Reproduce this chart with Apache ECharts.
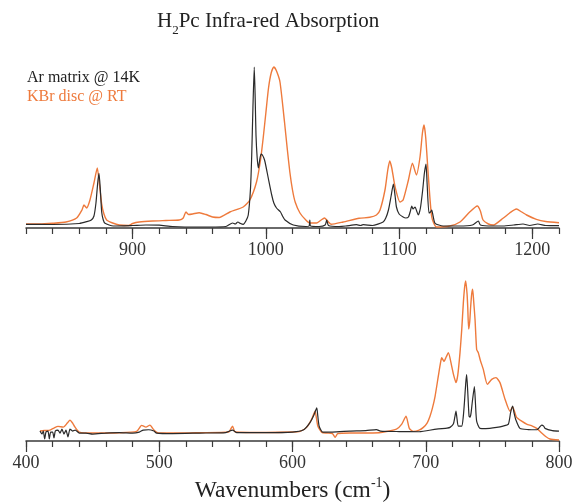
<!DOCTYPE html>
<html>
<head>
<meta charset="utf-8">
<script src="https://cdn.jsdelivr.net/npm/echarts@6/dist/echarts.min.js"></script>
<style>html,body{margin:0;padding:0;background:#fff}#c{width:576px;height:504px}</style>
</head>
<body>
<div id="c"></div>
<script>
// ---- data (wavenumber cm-1, relative absorbance) ----
var topTicks = [900, 1000, 1100, 1200];
var bottomTicks = [400, 500, 600, 700, 800];
var seriesNames = ['Ar matrix @ 14K', 'KBr disc @ RT'];

var arHigh = [
 [820,3.7],[840,3.5],[860,4.5],[865.5,6.3],[869,8],[871,12],[872.5,25],[873.8,45],[874.8,54.7],[875.8,38],[876.8,16],[878,8],[879.3,4.7],[885.5,2],
 [900,2.5],[910,3],[920,2.8],[930,1.5],[950,1],[958,1],[970,1.5],[975,5],[977,4],[979,6],[981,4.5],[983,3.7],[985,7],[986.8,13],[988.5,40],[989.4,73],
 [990.3,120],[991.3,161],[992,130],[992.6,93],[993.5,70],[994.4,60],[995.6,70],[996.5,74],[997.4,73],[998.5,70],[999.4,66],[1001.8,50],[1004.4,33],
 [1006,25],[1008,20],[1011,16],[1012.5,12],[1014.4,8],[1020.6,3],[1030,1.5],[1032.5,2],[1033,8],[1033.6,2],[1040,1.5],[1044.5,3],[1045.7,8],[1047,2.5],
 [1055,1.5],[1060,2],[1068,3.3],[1071,2.5],[1073,3.3],[1080,2.5],[1088,6],[1090,10],[1092,18],[1094,32],[1095.7,44],[1097,32],[1098,21],[1100,14],
 [1103,11],[1105,10],[1107,11],[1108.5,17],[1109.5,22],[1110.5,19],[1112,21],[1113.2,17],[1114.4,13],[1116,20],[1117.7,38],[1119,55],[1120.2,64],
 [1121,45],[1122.4,15],[1123.5,16],[1124.5,18],[1125.5,12],[1127,4.7],[1133,2],[1145,2],[1155,3],[1159.5,7],[1161,3],[1170,2],[1178,2],[1186,3],
 [1193,4],[1198,2.5],[1204,4],[1210,2.5],[1220,2.3]
];
var kbrHigh = [
 [820,4],[830,4],[840,4.7],[850,6],[858,10],[862,18],[863.5,23],[865.5,20],[868,28],[871,45],[873.5,60],[875,45],[876.8,24],[878.5,14],[880.5,8],
 [885,5],[890,3],[897,2.5],[900,4.5],[905,6],[915,7],[925,7.5],[935,8],[938,10],[940,16],[942,13.5],[945,14],[950,15.3],[955,13.5],[960,11],[965,10.5],
 [973,16],[983,21],[988,28],[993,46],[996,68],[998,90],[1000,115],[1002,140],[1004,155],[1006,161],[1008,157],[1010.6,146],[1014,106],[1016,80],
 [1018,56],[1020,38],[1022,26],[1025.6,15],[1030,8],[1033,5],[1038,5],[1041,7.5],[1044,10],[1047,6],[1049,3.7],[1058,6],[1070,9.7],[1078,10.7],
 [1083,13],[1085.7,18],[1089.4,38],[1091.5,58],[1093,67],[1094.5,60],[1097,41],[1100.7,26],[1103,28],[1107,48],[1110,64.7],[1113,53],[1115.7,71],
 [1117.5,95],[1118.7,103],[1120,90],[1122,51],[1124.5,11],[1128,1],[1138,2],[1145.7,6],[1153,16],[1158.7,22],[1161,17],[1163,8],[1167,4],[1170.7,3],
 [1178,9.7],[1183,15],[1188,19],[1192,16],[1195.7,13],[1203,8.7],[1210,6.5],[1220,5.3]
];
var arLow = [
 [410.5,10],[412,7],[413,10],[414,2],[415,9],[416.5,10],[417.5,2],[418.5,9],[420,9],[421,3],[422,10],[424,11],[425.5,8],[427,12],[428.5,7],[430,11],
 [431.5,4],[433,12],[435,10],[437,11],[440,8],[445,8],[450,7],[460,8],[470,8.5],[480,8],[485,9],[488,11],[492,11.3],[496,10],[498,8],[510,7.5],[530,8],
 [550,8.5],[555,11],[558,8.5],[580,8.5],[600,9],[608,11],[613,18.3],[616,26],[618.2,33.3],[619,25],[620,15],[622.6,9],[630,9],[643,10],[655,10.5],
 [663,11.5],[666,10],[680,9.5],[695,9.3],[708,12],[716,13],[718.2,13.7],[720.7,17],[721.8,24],[722.7,30],[723.5,22],[724.4,15],[727,15],[728.2,25],
 [729,38.3],[730,58],[730.7,66.7],[731.5,50],[732.5,25],[733.3,24],[734,28],[735,40],[736.5,54.7],[737.3,38],[738.2,20],[740.7,12.7],[745,12.5],
 [753.2,13.7],[758,15],[762,17],[763.7,28.7],[765.2,35],[766.3,28],[767.5,21.7],[770.7,12.7],[777,11.5],[783.3,11.3],[785.5,14],[787,16],[788.5,15],
 [789.5,12.7],[795,10.5],[800,10]
];
var kbrLow = [
 [410.5,10],[414,10.5],[418,11],[421,13],[424,14.7],[428,14],[431,18],[433,21],[435,18],[436.8,14],[440,9],[450,8],[470,8.3],[483,9.7],[486.8,15.7],
 [490,14],[493,16],[496,11],[499.3,8],[520,8],[530,8.3],[552,9],[555,15],[557,9],[580,8.5],[600,9],[605.6,9.7],[610.6,13.7],[614.4,22],[616.9,30],
 [619,15],[622,8.7],[625.6,8],[630,7.5],[632,3.7],[634,7.5],[645,8],[665,8.3],[678,12],[682,17],[685.2,25],[687.7,12.7],[690.7,9.7],[695,11],
 [698.2,13.7],[701,18],[703.2,25],[705,33],[707,45],[709.4,65],[711,78],[712,83.7],[713.7,80],[715.5,85],[717,88.7],[719.5,75],[721,66],[722.7,58.7],
 [724,66],[725.7,88.7],[727,112],[728.2,138.7],[729.2,155],[730,161],[731,148],[731.5,135],[732.2,112.7],[733,120],[733.7,135],[734.5,148],
 [735.2,152.7],[736,140],[737,122],[738.2,92],[739.4,89],[741,81],[743.2,72],[746.2,57],[749.5,62],[752.7,63.7],[755.7,58.7],[759.5,42],[763.2,30],
 [765.2,34.3],[768.2,23.7],[772,20],[775.7,17],[780,15],[783.3,12.7],[787,8],[790,4.5],[793.2,2],[800,1]
];

// ---- styling ----
var SERIF = '"Liberation Serif","DejaVu Serif",serif';
var AXIS = '#3a3a3a';
var BLACK = '#2a2a2a';
var ORANGE = '#ee7a3c';

function minorAxis(grid, mn, mx, ticks) {
  return {
    gridIndex: grid, type: 'value', min: mn, max: mx, interval: 20, position: 'bottom',
    axisLine: {show: true, lineStyle: {color: AXIS, width: 1.5}},
    axisTick: {show: true, length: 6, lineStyle: {color: AXIS, width: 1.2}},
    axisLabel: {show: true, customValues: ticks, margin: 13, fontFamily: SERIF, fontSize: 18, color: '#333',
      formatter: function (v) { return String(v); }},
    splitLine: {show: false}
  };
}
function majorAxis(grid, mn, mx, ticks) {
  return {
    gridIndex: grid, type: 'value', min: mn, max: mx, position: 'bottom',
    axisLine: {show: false},
    axisTick: {show: true, customValues: ticks, length: 11, lineStyle: {color: AXIS, width: 1.2}},
    axisLabel: {show: false},
    splitLine: {show: false}
  };
}
function yAx(grid) {
  return {gridIndex: grid, type: 'value', min: 0, max: 170, show: false, splitLine: {show: false}};
}
function line(name, data, xi, yi, color, w) {
  return {
    name: name, type: 'line', data: data, xAxisIndex: xi, yAxisIndex: yi,
    showSymbol: false, symbol: 'none', smooth: 0.2, animation: false,
    lineStyle: {color: color, width: w}, itemStyle: {color: color}, z: name === seriesNames[0] ? 3 : 2
  };
}

var bottomX = minorAxis(1, 400, 800, bottomTicks);
bottomX.name = '{a|Wavenumbers (cm}{p|-1}{a|)}';
bottomX.nameLocation = 'middle';
bottomX.nameGap = 35;
bottomX.nameTextStyle = {
  rich: {
    a: {fontFamily: SERIF, fontSize: 23.5, color: '#222', lineHeight: 27, verticalAlign: 'bottom'},
    p: {fontFamily: SERIF, fontSize: 14, color: '#222', verticalAlign: 'top', lineHeight: 15}
  }
};

var option = {
  backgroundColor: '#fff',
  animation: false,
  title: {
    text: '{a|H}{s|2}{a|Pc Infra-red Absorption}',
    left: 152, top: 6,
    textStyle: {
      fontWeight: 'normal',
      rich: {
        a: {fontFamily: SERIF, fontSize: 21, fontWeight: 'normal', color: '#222', lineHeight: 26, verticalAlign: 'top'},
        s: {fontFamily: SERIF, fontSize: 13, fontWeight: 'normal', color: '#222', lineHeight: 13, verticalAlign: 'bottom'}
      }
    }
  },
  legend: {
    data: [
      {name: seriesNames[0], textStyle: {color: '#222'}},
      {name: seriesNames[1], textStyle: {color: ORANGE}}
    ],
    orient: 'vertical', left: 17, top: 64, icon: 'none', itemWidth: 0, itemHeight: 10, itemGap: 1,
    textStyle: {fontFamily: SERIF, fontSize: 16, lineHeight: 18, padding: 0},
    selectedMode: false
  },
  grid: [
    {left: 26, right: 17, top: 58, height: 170},
    {left: 26, right: 17, top: 272, height: 170}
  ],
  xAxis: [
    minorAxis(0, 820, 1220, topTicks), majorAxis(0, 820, 1220, topTicks),
    bottomX, majorAxis(1, 400, 800, bottomTicks)
  ],
  yAxis: [yAx(0), yAx(1)],
  series: [
    line(seriesNames[1], kbrHigh, 0, 0, ORANGE, 1.4),
    line(seriesNames[0], arHigh, 0, 0, BLACK, 1.2),
    line(seriesNames[1], kbrLow, 2, 1, ORANGE, 1.4),
    line(seriesNames[0], arLow, 2, 1, BLACK, 1.2)
  ]
};
var chart = echarts.init(document.getElementById('c'), null, {renderer: 'canvas'});
chart.setOption(option);
</script>
</body>
</html>
